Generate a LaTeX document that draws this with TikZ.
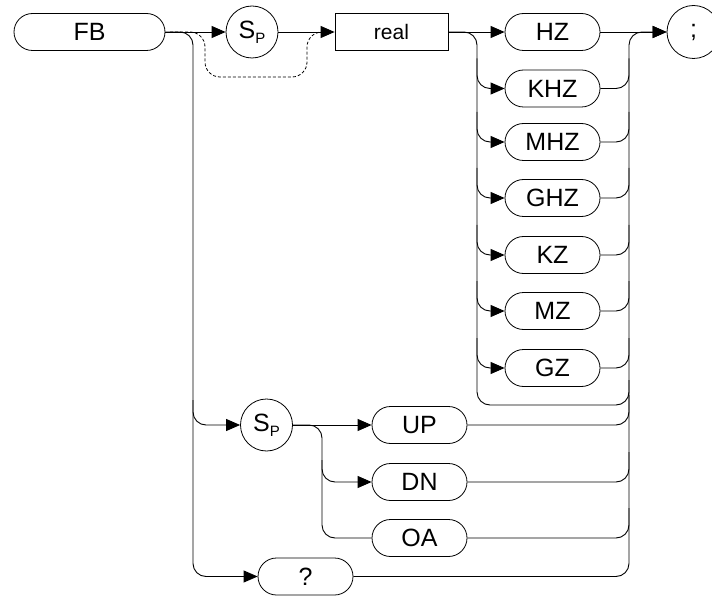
\documentclass[tikz,border=0pt]{standalone}
\usepackage{fontspec}
\setmainfont{Liberation Sans}
\usetikzlibrary{arrows.meta}
\begin{document}
\begin{tikzpicture}[x=1pt,y=-1pt,
  every node/.style={inner sep=0pt},
  kw/.style={draw,line width=0.8pt,rounded corners=18.5pt,minimum width=95pt,minimum height=37pt,font=\fontsize{25}{30}\selectfont},
  boxnode/.style={draw,line width=0.8pt,minimum width=113pt,minimum height=37pt,font=\fontsize{21}{25}\selectfont},
  circ/.style={draw,line width=0.8pt,circle,minimum size=52pt,font=\fontsize{25}{30}\selectfont},
  ln/.style={line width=0.9pt,rounded corners=13pt},
  arr/.style={ln,-{Triangle[length=14pt,width=12pt]}},
  dsh/.style={line width=0.8pt,rounded corners=15pt,dashed,dash pattern=on 3pt off 2pt}]
\useasboundingbox (0,0) rectangle (712,596);
% nodes
\node[kw,minimum width=151pt] (fb) at (89.5,32) {FB};
\node[circ] (sp1) at (252,32) {S{\raisebox{-0.35ex}{\fontsize{15}{18}\selectfont P}}};
\node[boxnode] (real) at (391.5,32) {real};
\node[kw] (hz) at (552.5,32) {HZ};
\node[kw] (khz) at (552.5,88.5) {KHZ};
\node[kw] (mhz) at (552.5,142) {MHZ};
\node[kw] (ghz) at (552.5,198) {GHZ};
\node[kw] (kz) at (552.5,255) {KZ};
\node[kw] (mz) at (552.5,311) {MZ};
\node[kw] (gz) at (552.5,368) {GZ};
\node[circ,minimum size=53pt] (semi) at (693.5,32) {;};
\node[circ] (sp2) at (266.5,425) {S{\raisebox{-0.35ex}{\fontsize{15}{18}\selectfont P}}};
\node[kw] (up) at (419.5,425) {UP};
\node[kw] (dn) at (419.5,482) {DN};
\node[kw] (oa) at (419.5,538) {OA};
\node[kw] (q) at (305.5,576.5) {?};
% coordinates
\coordinate (lx) at (193,0);
\coordinate (ux) at (477,0);
\coordinate (rx) at (629,0);
\coordinate (sx) at (322,0);
% top line
\draw[arr] (fb.east) -- (sp1.west);
\draw[arr] (sp1.east) -- (real.west);
\draw[dsh] (170,32) -- (205,32) -- (205,77) -- (307,77) -- (307,32) -- (326,32);
% left main vertical
\draw[arr] (fb.east) -- (lx |- fb.east) -- (lx |- sp2.west) -- (sp2.west);
\draw[arr] (lx |- 400,400) -- (lx |- q.west) -- (q.west);
% units
\draw[arr] (real.east) -- (hz.west);
\draw[ln] (real.east) -- (ux |- real.east) -- (ux |- 0,405) -- (rx |- 0,405) -- (rx |- 0,380);
\foreach \n in {khz,mhz,ghz,kz,mz,gz}{
  \draw[arr] (ux |- \n.west) ++(0,-30) -- (ux |- \n.west) -- (\n.west);
  \draw[ln] (\n.east) -- (rx |- \n.east) -- ++(0,-30);
}
\draw[arr] (hz.east) -- (semi.west);
% right bar
\draw[arr] (q.east) -- (rx |- q.east) -- (rx |- semi.west) -- (semi.west);
% Sp2 branch
\draw[arr] (sp2.east) -- (up.west);
\draw[arr] (sp2.east) -- (sx |- sp2.east) -- (sx |- dn.west) -- (dn.west);
\draw[ln] (sx |- 0,460) -- (sx |- oa.west) -- (oa.west);
\foreach \n in {up,dn,oa}{
  \draw[ln] (\n.east) -- (rx |- \n.east) -- ++(0,-30);
}
\end{tikzpicture}
\end{document}
